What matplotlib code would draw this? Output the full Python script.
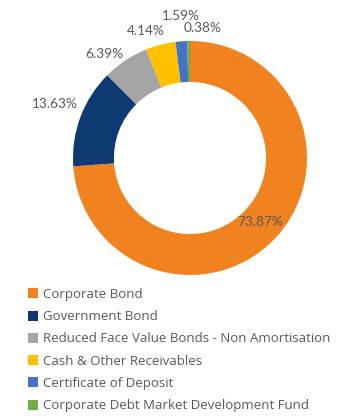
import numpy as np
import matplotlib
matplotlib.use("Agg")
import matplotlib.pyplot as plt
from matplotlib.patches import Patch

categories = [
    "Corporate Bond",
    "Government Bond",
    "Reduced Face Value Bonds - Non Amortisation",
    "Cash & Other Receivables",
    "Certificate of Deposit",
    "Corporate Debt Market Development Fund",
]
values = [73.87, 13.63, 6.39, 4.14, 1.59, 0.38]
colors = ["#F0821F", "#0C3A71", "#A5A5A5", "#FFC000", "#4472C4", "#70AD47"]

# label placement: (radius, angle nudge in degrees) per wedge
label_pos = [(0.81, 0.6), (1.24, -1.3), (1.15, 5.9), (1.15, 4.6), (1.22, -0.7), (1.12, -6.2)]

TXT = "#595959"

fig = plt.figure(figsize=(3.52, 4.18), dpi=100)
W, H = 352, 418
cx, cy, R = 190, 158, 117
ax = fig.add_axes([(cx - R) / W, (H - cy - R) / H, 2 * R / W, 2 * R / H])

wedges, _ = ax.pie(values, colors=colors, startangle=90, counterclock=False,
                   radius=1, wedgeprops=dict(width=0.35, linewidth=0))
ax.set_xlim(-1, 1)
ax.set_ylim(-1, 1)
ax.set_aspect("equal")
ax.axis("off")

for w, v, (r, nudge) in zip(wedges, values, label_pos):
    ang = np.deg2rad((w.theta1 + w.theta2) / 2 + nudge)
    ax.text(r * np.cos(ang), r * np.sin(ang), f"{v:.2f}%", ha="center", va="center",
            fontsize=9.8, color=TXT, family="Lato", clip_on=False)

handles = [Patch(facecolor=c, edgecolor="none") for c in colors]
fig.legend(handles, categories, loc="upper left", bbox_to_anchor=(28 / W, 1 - 288 / H),
           frameon=False, labelcolor=TXT, prop={"family": "Open Sans", "size": 9.5},
           handlelength=0.78, handleheight=0.78, handletextpad=0.33, labelspacing=0.7,
           borderpad=0, borderaxespad=0)

fig.savefig("out.png", dpi=100)
